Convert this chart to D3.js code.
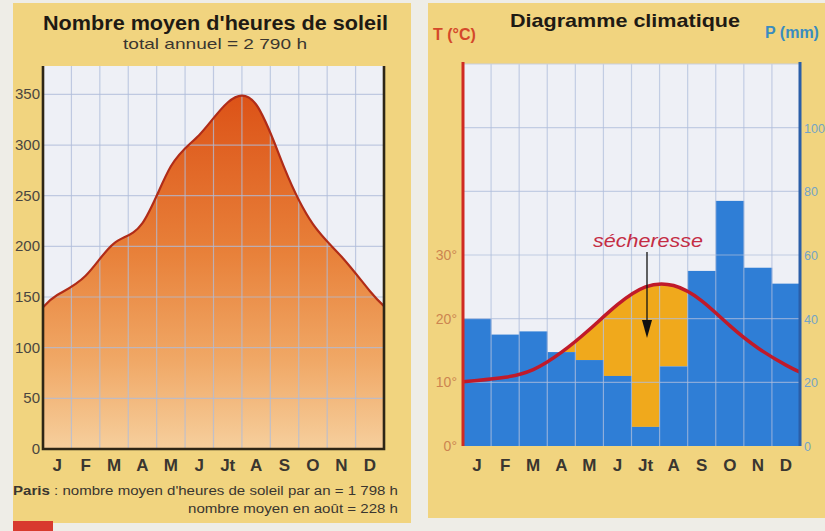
<!DOCTYPE html>
<html><head><meta charset="utf-8">
<script src="https://cdn.jsdelivr.net/npm/d3@7"></script>
<style>
html,body{margin:0;padding:0;background:#eeede7;}
svg{display:block;font-family:"Liberation Sans",Arial,Helvetica,sans-serif;}
</style>
</head><body>
<svg id="c" width="825" height="531"></svg>
<script>
// Month labels shared by both charts
const months = ["J","F","M","A","M","J","Jt","A","S","O","N","D"];

// Left chart: mean monthly hours of sunshine
const sunshineHours = [152, 171, 203, 223, 279, 310, 342, 340, 277, 222, 190, 156];
const sunshineEdges = [140, 141];           // value at the start of January / end of December
const sunshineTicks = [0, 50, 100, 150, 200, 250, 300, 350];

// Right chart: climate diagram (temperature °C, precipitation mm)
const temperature = [10.3, 10.8, 12.0, 14.7, 18.3, 22.2, 25.0, 25.2, 22.8, 18.9, 15.4, 12.7];
const temperatureEdges = [10.1, 11.6];
const precipitation = [40, 35, 36, 29.5, 27, 22, 6, 25, 55, 77, 56, 51];
const tempTicks = [0, 10, 20, 30];
const precipTicks = [0, 20, 40, 60, 80, 100];

const svg = d3.select("#c");

// ---------- panels ----------
svg.append("rect").attr("x", 13).attr("y", 3).attr("width", 398).attr("height", 520).attr("fill", "#f1d47f");
svg.append("rect").attr("x", 428).attr("y", 3).attr("width", 397).attr("height", 515).attr("fill", "#f1d47f");
svg.append("rect").attr("x", 13).attr("y", 521).attr("width", 40).attr("height", 10).attr("fill", "#d83a2e");

// ================= LEFT: sunshine =================
const L = {x0: 43, x1: 384, top: 66, bot: 449};
const lx = d3.scaleLinear().domain([0, 12]).range([L.x0, L.x1]);
const lband = d3.scaleBand().domain(d3.range(12)).range([L.x0, L.x1]);
const ly = d3.scaleLinear().domain([0, 378]).range([L.bot, L.top]);

svg.append("rect").attr("x", L.x0).attr("y", L.top).attr("width", L.x1 - L.x0).attr("height", L.bot - L.top).attr("fill", "#eef0f6");

const defs = svg.append("defs");
const grad = defs.append("linearGradient").attr("id", "sunFill")
  .attr("gradientUnits", "userSpaceOnUse").attr("x1", 0).attr("x2", 0)
  .attr("y1", ly(350)).attr("y2", ly(0));
grad.append("stop").attr("offset", "0").attr("stop-color", "#dc5217");
grad.append("stop").attr("offset", "0.45").attr("stop-color", "#e8813a");
grad.append("stop").attr("offset", "0.75").attr("stop-color", "#f0a866");
grad.append("stop").attr("offset", "1").attr("stop-color", "#f6cf9d");

const sunPts = [[0, sunshineEdges[0]]]
  .concat(sunshineHours.map((v, i) => [i + 0.5, v]))
  .concat([[12, sunshineEdges[1]]]);

const sunArea = d3.area().x(d => lx(d[0])).y0(ly(0)).y1(d => ly(d[1])).curve(d3.curveNatural);
const sunLine = d3.line().x(d => lx(d[0])).y(d => ly(d[1])).curve(d3.curveNatural);

svg.append("path").datum(sunPts).attr("d", sunArea).attr("fill", "url(#sunFill)");

// grid over the fill
const lgrid = svg.append("g").attr("stroke", "rgba(175,188,218,0.75)").attr("stroke-width", 1.2);
d3.range(1, 12).forEach(i => lgrid.append("line").attr("x1", lx(i)).attr("x2", lx(i)).attr("y1", L.top).attr("y2", L.bot));
sunshineTicks.filter(t => t > 0).forEach(t => lgrid.append("line").attr("x1", L.x0).attr("x2", L.x1).attr("y1", ly(t)).attr("y2", ly(t)));

svg.append("path").datum(sunPts).attr("d", sunLine).attr("fill", "none").attr("stroke", "#b02c18").attr("stroke-width", 2.2);

// frame
svg.append("path").attr("d", `M${L.x0},${L.top}V${L.bot}H${L.x1}V${L.top}`)
  .attr("fill", "none").attr("stroke", "#2e2616").attr("stroke-width", 2.6);

// y ticks
svg.append("g").selectAll("text").data(sunshineTicks).join("text")
  .attr("x", 40).attr("y", d => ly(d) + 5).attr("text-anchor", "end")
  .attr("font-size", 15).attr("fill", "#4a4640").text(d => d);

// months
svg.append("g").selectAll("text").data(months).join("text")
  .attr("x", (d, i) => lband(i) + lband.bandwidth() / 2).attr("y", 471)
  .attr("text-anchor", "middle").attr("font-size", 17).attr("font-weight", "bold")
  .attr("fill", "#3a3630").text(d => d);

// titles
svg.append("text").attr("x", 43).attr("y", 30).attr("font-size", 20).attr("font-weight", "bold")
  .attr("fill", "#1e1a14").attr("textLength", 345).attr("lengthAdjust", "spacingAndGlyphs")
  .text("Nombre moyen d'heures de soleil");
svg.append("text").attr("x", 123).attr("y", 49).attr("font-size", 15)
  .attr("fill", "#3a3630").attr("textLength", 184).attr("lengthAdjust", "spacingAndGlyphs")
  .text("total annuel = 2 790 h");

// footnote
const foot = svg.append("text").attr("x", 13).attr("y", 495).attr("font-size", 12.5).attr("fill", "#3a3630")
  .attr("textLength", 385).attr("lengthAdjust", "spacingAndGlyphs");
foot.append("tspan").attr("font-weight", "bold").text("Paris");
foot.append("tspan").text(" : nombre moyen d'heures de soleil par an = 1 798 h");
svg.append("text").attr("x", 398).attr("y", 513).attr("font-size", 12.5).attr("fill", "#3a3630")
  .attr("text-anchor", "end").attr("textLength", 210).attr("lengthAdjust", "spacingAndGlyphs")
  .text("nombre moyen en août = 228 h");

// ================= RIGHT: climate diagram =================
const R = {x0: 463, x1: 800, top: 64, bot: 446};
const rx = d3.scaleLinear().domain([0, 12]).range([R.x0, R.x1]);
const rband = d3.scaleBand().domain(d3.range(12)).range([R.x0, R.x1]);
const ty = d3.scaleLinear().domain([0, 60]).range([R.bot, R.top]);
const py = d3.scaleLinear().domain([0, 120]).range([R.bot, R.top]);

svg.append("rect").attr("x", R.x0).attr("y", R.top).attr("width", R.x1 - R.x0).attr("height", R.bot - R.top).attr("fill", "#eef0f6");

const tPts = [[0, temperatureEdges[0]]]
  .concat(temperature.map((v, i) => [i + 0.5, v]))
  .concat([[12, temperatureEdges[1]]]);

// area under the temperature curve: dry months show where rain falls below it
defs.append("clipPath").attr("id", "underTemp").append("path").datum(tPts)
  .attr("d", d3.area().x(d => rx(d[0])).y0(R.bot).y1(d => ty(d[1])).curve(d3.curveNatural));

svg.append("g").attr("clip-path", "url(#underTemp)").selectAll("rect").data(precipitation).join("rect")
  .attr("x", (d, i) => rband(i)).attr("width", rband.bandwidth())
  .attr("y", R.top).attr("height", d => py(d) - R.top).attr("fill", "#f0a91c");

svg.append("g").selectAll("rect").data(precipitation).join("rect")
  .attr("x", (d, i) => rband(i)).attr("width", rband.bandwidth() + 0.3)
  .attr("y", d => py(d)).attr("height", d => R.bot - py(d)).attr("fill", "#2f7ed6");

const rgrid = svg.append("g").attr("stroke", "rgba(175,190,220,0.7)").attr("stroke-width", 1.2);
d3.range(1, 12).forEach(i => rgrid.append("line").attr("x1", rx(i)).attr("x2", rx(i)).attr("y1", R.top).attr("y2", R.bot));
[10, 20, 30, 40, 50].forEach(t => rgrid.append("line").attr("x1", R.x0).attr("x2", R.x1).attr("y1", ty(t)).attr("y2", ty(t)));
svg.append("line").attr("x1", R.x0).attr("x2", R.x1).attr("y1", R.top).attr("y2", R.top).attr("stroke", "#c8cfe0").attr("stroke-width", 1);

svg.append("path").datum(tPts)
  .attr("d", d3.line().x(d => rx(d[0])).y(d => ty(d[1])).curve(d3.curveNatural))
  .attr("fill", "none").attr("stroke", "#c01a2a").attr("stroke-width", 3.5);

// axes
svg.append("line").attr("x1", R.x0).attr("x2", R.x0).attr("y1", R.top - 2).attr("y2", R.bot).attr("stroke", "#d02a22").attr("stroke-width", 3);
svg.append("line").attr("x1", R.x1).attr("x2", R.x1).attr("y1", R.top - 2).attr("y2", R.bot).attr("stroke", "#2a5ea8").attr("stroke-width", 3);

svg.append("g").selectAll("text").data(tempTicks).join("text")
  .attr("x", 457).attr("y", d => ty(d) + 5).attr("text-anchor", "end")
  .attr("font-size", 14).attr("fill", "#cc8450").text(d => d + "°");
svg.append("g").selectAll("text").data(precipTicks).join("text")
  .attr("x", 804).attr("y", d => py(d) + 5).attr("text-anchor", "start")
  .attr("font-size", 12.5).attr("fill", "#74a4c6").text(d => d);

svg.append("g").selectAll("text").data(months).join("text")
  .attr("x", (d, i) => rband(i) + rband.bandwidth() / 2).attr("y", 471)
  .attr("text-anchor", "middle").attr("font-size", 17).attr("font-weight", "bold")
  .attr("fill", "#3a3630").text(d => d);

svg.append("text").attr("x", 510).attr("y", 27).attr("font-size", 19).attr("font-weight", "bold")
  .attr("fill", "#1e1a14").attr("textLength", 230).attr("lengthAdjust", "spacingAndGlyphs")
  .text("Diagramme climatique");
svg.append("text").attr("x", 433).attr("y", 40).attr("font-size", 16).attr("font-weight", "bold")
  .attr("fill", "#d4482a").text("T (°C)");
svg.append("text").attr("x", 765).attr("y", 38).attr("font-size", 16).attr("font-weight", "bold")
  .attr("fill", "#3a8cc0").text("P (mm)");

// dry-season annotation
svg.append("text").attr("x", 648).attr("y", 247).attr("text-anchor", "middle")
  .attr("font-size", 18).attr("font-style", "italic").attr("fill", "#c42c44")
  .attr("textLength", 110).attr("lengthAdjust", "spacingAndGlyphs").text("sécheresse");
svg.append("line").attr("x1", 647).attr("x2", 647).attr("y1", 252).attr("y2", 326).attr("stroke", "#111").attr("stroke-width", 1.3);
svg.append("path").attr("d", "M642,320L652,320L647,338Z").attr("fill", "#111");
</script>
</body></html>
